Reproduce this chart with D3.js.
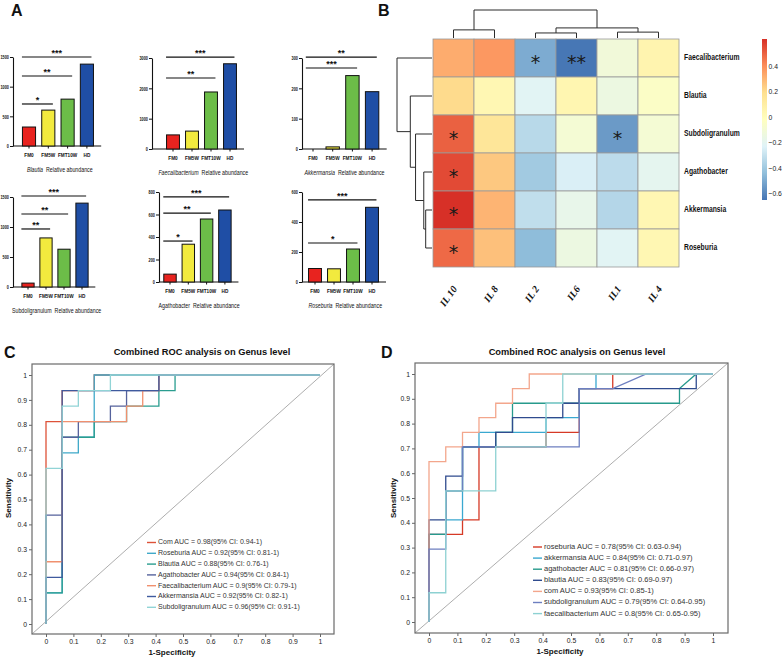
<!DOCTYPE html>
<html>
<head>
<meta charset="utf-8">
<script src="https://cdn.jsdelivr.net/npm/d3@7"></script>
<style>
  body { margin: 0; background: #fff; }
  svg { display: block; }
</style>
</head>
<body>
<svg id="fig" width="784" height="659"></svg>
<script>
// ---------- data: panel A (relative abundance bars) ----------
const groups = ["FM0", "FM5W", "FMT10W", "HD"];
const genera = ["Blautia", "Faecalibacterium", "Akkermansia", "Subdoligranulum", "Agathobacter", "Roseburia"];
const abundance = [
  [320, 605, 790, 1380],
  [465, 590, 1880, 2810],
  [0, 7, 242, 189],
  [65, 818, 630, 1398],
  [70, 336, 560, 640],
  [90, 88, 220, 498]
];
const yMax = [1500, 3000, 300, 1500, 800, 600];
const yStep = [500, 1000, 100, 500, 200, 200];
// [target group index, label, bracket level in data units]; all brackets start at FM0
const sigBars = [
  [[1, "*", 708], [2, "**", 1180], [3, "***", 1500]],
  [[2, "**", 2340], [3, "***", 3030]],
  [[2, "***", 267], [3, "**", 303]],
  [[1, "**", 967], [2, "**", 1217], [3, "***", 1517]],
  [[1, "*", 364], [2, "**", 613], [3, "***", 756]],
  [[2, "*", 260], [3, "***", 547]]
];

// ---------- data: panel B (correlation heatmap) ----------
const heatRows = ["Faecalibacterium", "Blautia", "Subdoligranulum", "Agathobacter", "Akkermansia", "Roseburia"];
const heatCols = ["IL 10", "IL 8", "IL 2", "IL6", "IL1", "IL 4"];
const corr = [
  [0.32, 0.37, -0.50, -0.65, -0.12, 0.05],
  [0.20, 0.03, -0.22, 0.04, -0.15, -0.05],
  [0.50, 0.15, -0.34, -0.10, -0.55, -0.10],
  [0.55, 0.25, -0.40, -0.25, -0.33, -0.20],
  [0.61, 0.30, -0.32, -0.18, -0.35, 0.03],
  [0.48, 0.27, -0.45, -0.15, -0.22, 0.03]
];
const corrStars = [
  ["", "", "*", "**", "", ""],
  ["", "", "", "", "", ""],
  ["*", "", "", "", "*", ""],
  ["*", "", "", "", "", ""],
  ["*", "", "", "", "", ""],
  ["*", "", "", "", "", ""]
];
const rowTree = { h: 1, children: [
  { name: "Faecalibacterium" },
  { h: 0.62, children: [
    { name: "Blautia" },
    { h: 0.47, children: [
      { name: "Subdoligranulum" },
      { h: 0.235, children: [
        { name: "Agathobacter" },
        { h: 0.18, children: [{ name: "Akkermansia" }, { name: "Roseburia" }] }
      ] }
    ] }
  ] }
] };
const colTree = { h: 1, children: [
  { h: 0.29, children: [{ name: "IL 10" }, { name: "IL 8" }] },
  { h: 0.36, children: [
    { h: 0.18, children: [{ name: "IL 2" }, { name: "IL6" }] },
    { h: 0.21, children: [{ name: "IL1" }, { name: "IL 4" }] }
  ] }
] };
const colorTicks = [0.4, 0.2, 0, -0.2, -0.4, -0.6];

// ---------- data: panels C and D (ROC) ----------
const rocTicks = [0, 0.1, 0.2, 0.3, 0.4, 0.5, 0.6, 0.7, 0.8, 0.9, 1];

const rocNamesC = ["Com", "Roseburia", "Blautia", "Agathobacter", "Faecalibacterium", "Akkermansia", "Subdoligranulum"];
const aucC = ["0.98", "0.92", "0.88", "0.94", "0.9", "0.92", "0.96"];
const ciC = ["0.94-1", "0.81-1", "0.76-1", "0.84-1", "0.79-1", "0.82-1", "0.91-1"];
const rocC = [
  [[0,0],[0,0.8125],[0.059,0.8125],[0.059,0.9375],[0.176,0.9375],[0.176,1],[1,1]],
  [[0,0],[0,0.125],[0.059,0.125],[0.059,0.6875],[0.118,0.6875],[0.118,0.75],[0.176,0.75],[0.176,1],[1,1]],
  [[0,0],[0,0.125],[0.059,0.125],[0.059,0.75],[0.176,0.75],[0.176,0.8125],[0.294,0.8125],[0.294,0.875],[0.412,0.875],[0.412,0.9375],[0.471,0.9375],[0.471,1],[1,1]],
  [[0,0],[0,0.4375],[0.059,0.4375],[0.059,0.75],[0.118,0.75],[0.118,0.8125],[0.235,0.8125],[0.235,0.875],[0.294,0.875],[0.294,0.9375],[0.412,0.9375],[0.412,1],[1,1]],
  [[0,0],[0,0.25],[0.059,0.25],[0.059,0.8125],[0.294,0.8125],[0.294,0.875],[0.353,0.875],[0.353,0.9375],[0.412,0.9375],[0.412,1],[1,1]],
  [[0,0],[0,0.1875],[0.059,0.1875],[0.059,0.9375],[0.412,0.9375],[0.412,1],[1,1]],
  [[0,0],[0,0.625],[0.059,0.625],[0.059,0.875],[0.118,0.875],[0.118,0.9375],[0.235,0.9375],[0.235,1],[1,1]]
];

const rocNamesD = ["roseburia", "akkermansia", "agathobacter", "blautia", "com", "subdoligranulum", "faecalibacterium"];
const aucD = ["0.78", "0.84", "0.81", "0.83", "0.93", "0.79", "0.8"];
const ciD = ["0.63-0.94", "0.71-0.97", "0.66-0.97", "0.69-0.97", "0.85-1", "0.64-0.95", "0.65-0.95"];
const rocD = [
  [[0,0],[0,0.353],[0.118,0.353],[0.118,0.412],[0.176,0.412],[0.176,0.706],[0.412,0.706],[0.412,0.765],[0.529,0.765],[0.529,0.941],[0.647,0.941],[0.647,1],[1,1]],
  [[0,0],[0,0.353],[0.059,0.353],[0.059,0.412],[0.118,0.412],[0.118,0.706],[0.176,0.706],[0.176,0.765],[0.412,0.765],[0.412,0.824],[0.529,0.824],[0.529,0.941],[0.588,0.941],[0.588,1],[1,1]],
  [[0,0],[0,0.353],[0.059,0.353],[0.059,0.529],[0.118,0.529],[0.118,0.706],[0.235,0.706],[0.235,0.765],[0.294,0.765],[0.294,0.882],[0.882,0.882],[0.882,0.941],[0.941,1],[1,1]],
  [[0,0],[0,0.412],[0.059,0.412],[0.059,0.588],[0.118,0.588],[0.118,0.706],[0.235,0.706],[0.235,0.765],[0.294,0.765],[0.294,0.824],[0.471,0.824],[0.471,0.882],[0.529,0.882],[0.529,0.941],[0.941,0.941],[0.941,1],[1,1]],
  [[0,0],[0,0.647],[0.059,0.647],[0.059,0.706],[0.118,0.706],[0.118,0.765],[0.176,0.765],[0.176,0.824],[0.235,0.824],[0.235,0.882],[0.294,0.882],[0.294,0.941],[0.353,0.941],[0.353,1],[1,1]],
  [[0,0],[0,0.294],[0.059,0.294],[0.059,0.529],[0.118,0.529],[0.118,0.706],[0.529,0.706],[0.529,0.941],[0.647,0.941],[0.765,1],[1,1]],
  [[0,0],[0,0.118],[0.059,0.118],[0.059,0.529],[0.235,0.529],[0.235,0.706],[0.412,0.706],[0.412,0.882],[0.471,0.882],[0.471,1],[1,1]]
];

// ---------- layout & styles ----------
const SANS = "'Liberation Sans', Arial, sans-serif";
const SERIF = "'Liberation Serif', 'Times New Roman', serif";

const barFill = ["#e8231f", "#f2ea3e", "#6cbd48", "#1f4ea5"];
const barFrames = [
  { ax: 13, y0: 146, yTop: 57, c0: 29, step: 19.3, italic: true },
  { ax: 152, y0: 149, yTop: 58, c0: 173, step: 19, italic: true },
  { ax: 302, y0: 149, yTop: 58, c0: 313, step: 19.7, italic: true },
  { ax: 13, y0: 287, yTop: 197, c0: 28, step: 18, italic: false },
  { ax: 159, y0: 282, yTop: 192, c0: 170, step: 18.3, italic: false },
  { ax: 302, y0: 282, yTop: 192, c0: 315, step: 19, italic: true }
];
const heatBox = { left: 433, right: 679, top: 39, bottom: 267 };
const heatPalette = ["#4575B4", "#91BFDB", "#E0F3F8", "#FFFFBF", "#FEE090", "#FC8D59", "#D73027"];
const colorsC = ["#dd5238", "#3fa9c9", "#2a9d8f", "#55629c", "#f0906e", "#3f5a9e", "#91d4d6"];
const colorsD = ["#d63a26", "#3aa8d0", "#279a8c", "#2f4b8e", "#f3a68c", "#6d7fc0", "#8dd1d2"];
const rocFrameC = { left: 32, right: 334, top: 364, bottom: 634, x0: 46, x1: 320, y0: 624, y1: 375,
  title: [202, 355], xlab: [172, 655], ylab: [9, 498], legend: { x: 147, y: 542.5, dy: 10.8, fs: 7 } };
const rocFrameD = { left: 415, right: 728, top: 363, bottom: 633, x0: 429, x1: 713, y0: 622, y1: 374,
  title: [577, 355], xlab: [560, 654], ylab: [394, 498], legend: { x: 533, y: 547, dy: 11.1, fs: 7.5 } };

// squeeze text horizontally (scaleX about its anchor) to mimic the condensed face of the original
function condense(sel, k) {
  sel.each(function () {
    const t = d3.select(this);
    const x = +t.attr("x") || 0, y = +t.attr("y") || 0;
    t.attr("x", 0).attr("y", 0).attr("transform", `translate(${x},${y}) scale(${k},1)`);
  });
}

const svg = d3.select("#fig");
svg.append("rect").attr("width", 784).attr("height", 659).attr("fill", "#fff");

// panel letters
[["A", 11, 16], ["B", 378, 16], ["C", 4, 358], ["D", 381, 358]].forEach(([t, x, y]) => {
  svg.append("text").attr("x", x).attr("y", y).text(t)
    .style("font-family", SANS).style("font-weight", "bold").style("font-size", "16px").style("fill", "#111");
});

// ---------- panel A ----------
genera.forEach((name, k) => {
  const f = barFrames[k];
  const g = svg.append("g").attr("class", "bar-chart");
  const y = d3.scaleLinear().domain([0, yMax[k]]).range([f.y0, f.yTop]);
  const x = d3.scaleBand().domain(groups)
    .range([f.c0 - f.step / 2, f.c0 + f.step * 3.5])
    .paddingInner(0.32).paddingOuter(0.16);

  const yAxis = d3.axisLeft(y)
    .tickValues(d3.range(0, yMax[k] + 1, yStep[k]))
    .tickSize(3).tickSizeOuter(0).tickPadding(1)
    .tickFormat(d3.format("d"));
  const ya = g.append("g").attr("transform", `translate(${f.ax},0)`).call(yAxis);
  ya.select(".domain").attr("stroke", "#111").attr("stroke-width", 1.1);
  ya.selectAll(".tick line").attr("stroke", "#111");
  ya.selectAll(".tick text").style("font-family", SANS).style("font-weight", "bold")
    .style("font-size", "6px").attr("fill", "#111");
  condense(ya.selectAll(".tick text"), 0.64);

  // x axis
  const xEnd = x("HD") + x.bandwidth() + f.step * 0.4;
  g.append("line").attr("x1", f.ax).attr("x2", xEnd).attr("y1", f.y0).attr("y2", f.y0)
    .attr("stroke", "#111").attr("stroke-width", 1.1);
  groups.forEach(gr => {
    const cx = x(gr) + x.bandwidth() / 2;
    g.append("line").attr("x1", cx).attr("x2", cx).attr("y1", f.y0).attr("y2", f.y0 + 2.5)
      .attr("stroke", "#111");
    const t = g.append("text").attr("x", cx).attr("y", f.y0 + 11).attr("text-anchor", "middle").text(gr)
      .style("font-family", SANS).style("font-weight", "bold").style("font-size", "6.2px").style("fill", "#111");
    condense(t, 0.76);
  });

  g.selectAll("rect.bar").data(abundance[k]).join("rect")
    .attr("class", "bar")
    .attr("x", (d, i) => x(groups[i]))
    .attr("y", d => y(d))
    .attr("width", x.bandwidth())
    .attr("height", d => f.y0 - y(d))
    .attr("fill", (d, i) => barFill[i])
    .attr("stroke", "#111").attr("stroke-width", 1);

  // significance brackets
  sigBars[k].forEach(([ti, label, level]) => {
    const x1 = x(groups[0]) - 0.5;
    const x2 = x(groups[ti]) + x.bandwidth() - 2;
    const yy = y(level);
    g.append("line").attr("x1", x1).attr("x2", x2).attr("y1", yy).attr("y2", yy)
      .attr("stroke", "#111").attr("stroke-width", 1.2);
    g.append("text").attr("x", (x1 + x2) / 2).attr("y", yy - 1.2).attr("text-anchor", "middle").text(label)
      .style("font-family", SANS).style("font-weight", "bold").style("font-size", "9px").style("fill", "#111");
  });

  // caption: genus name + "Relative abundance", set side by side
  const capY = f.y0 + 25.5;
  const capX = (x(groups[0]) + xEnd) / 2 - 2;
  const k0 = 0.8, gap = 3;
  const t1 = g.append("text").text(name)
    .style("font-family", SANS).style("font-size", "6.6px").style("fill", "#111")
    .style("font-style", f.italic ? "italic" : "normal");
  const t2 = g.append("text").text("Relative abundance")
    .style("font-family", SANS).style("font-size", "6.6px").style("fill", "#111");
  const w1 = t1.node().getComputedTextLength() * k0;
  const w2 = t2.node().getComputedTextLength() * k0;
  const sx = capX - (w1 + gap + w2) / 2;
  t1.attr("x", sx).attr("y", capY);
  t2.attr("x", sx + w1 + gap).attr("y", capY);
  condense(t1, k0);
  condense(t2, k0);
});

// ---------- panel B ----------
const hb = heatBox;
const hx = d3.scaleBand().domain(heatCols).range([hb.left, hb.right]);
const hy = d3.scaleBand().domain(heatRows).range([hb.top, hb.bottom]);
const allVals = corr.flat();
const vLo = -0.655, vHi = d3.max(allVals);
const heatColor = d3.scaleLinear()
  .domain(heatPalette.map((_, i) => vLo + i * (vHi - vLo) / (heatPalette.length - 1)))
  .range(heatPalette);

const gHeat = svg.append("g").attr("class", "heatmap");
heatRows.forEach((r, i) => {
  heatCols.forEach((c, j) => {
    gHeat.append("rect")
      .attr("x", hx(c)).attr("y", hy(r))
      .attr("width", hx.bandwidth()).attr("height", hy.bandwidth())
      .attr("fill", heatColor(corr[i][j]))
      .attr("stroke", "#9a9a9a").attr("stroke-width", 0.8);
    if (corrStars[i][j]) {
      gHeat.append("text")
        .attr("x", hx(c) + hx.bandwidth() / 2)
        .attr("y", hy(r) + hy.bandwidth() / 2 + 10.5)
        .attr("text-anchor", "middle")
        .text(corrStars[i][j])
        .style("font-family", "'DejaVu Sans', sans-serif").style("font-size", "19px").style("fill", "#1a1a1a");
    }
  });
  const t = gHeat.append("text").attr("x", hb.right + 5).attr("y", hy(r) + hy.bandwidth() / 2)
    .attr("dominant-baseline", "middle").text(r)
    .style("font-family", SANS).style("font-weight", "bold").style("font-size", "8.5px").style("fill", "#111");
  condense(t, 0.8);
});
heatCols.forEach(c => {
  const cx = hx(c) + hx.bandwidth() / 2 + 4;
  gHeat.append("text").attr("x", cx).attr("y", hb.bottom + 22)
    .attr("text-anchor", "end")
    .attr("transform", `rotate(-55, ${cx}, ${hb.bottom + 22})`)
    .text(c)
    .style("font-family", SERIF).style("font-weight", "bold").style("font-style", "italic")
    .style("font-size", "10px").style("fill", "#111");
});

// dendrograms
function drawDendro(tree, posScale, hScale, horizontal) {
  const root = d3.hierarchy(tree);
  root.eachAfter(n => {
    n.pos = n.children ? d3.mean(n.children, c => c.pos) : posScale(n.data.name) + posScale.bandwidth() / 2;
    n.ht = n.children ? n.data.h : 0;
  });
  const gD = svg.append("g").attr("class", "dendro");
  const seg = (a, b, c, d) => {
    // horizontal: height on x, position on y
    const pts = horizontal ? [hScale(a), b, hScale(c), d] : [b, hScale(a), d, hScale(c)];
    gD.append("line").attr("x1", pts[0]).attr("y1", pts[1]).attr("x2", pts[2]).attr("y2", pts[3])
      .attr("stroke", "#2b2b2b").attr("stroke-width", 1);
  };
  root.each(n => {
    if (!n.children) return;
    n.children.forEach(ch => seg(ch.ht, ch.pos, n.ht, ch.pos));
    const ps = n.children.map(c => c.pos);
    seg(n.ht, d3.min(ps), n.ht, d3.max(ps));
  });
}
drawDendro(rowTree, hy, d3.scaleLinear().domain([0, 1]).range([hb.left - 1, 397]), true);
drawDendro(colTree, hx, d3.scaleLinear().domain([0, 1]).range([hb.top - 1, 10]), false);

// colour bar
const cb = { x: 762, w: 5, top: 39, bottom: 200 };
const cbScale = d3.scaleLinear().domain([vLo, vHi]).range([cb.bottom, cb.top]);
const grad = svg.append("defs").append("linearGradient").attr("id", "cbgrad")
  .attr("x1", 0).attr("y1", 1).attr("x2", 0).attr("y2", 0);
heatColor.domain().forEach((v, i) => {
  grad.append("stop").attr("offset", i / (heatPalette.length - 1)).attr("stop-color", heatPalette[i]);
});
svg.append("rect").attr("x", cb.x).attr("y", cb.top).attr("width", cb.w).attr("height", cb.bottom - cb.top)
  .attr("fill", "url(#cbgrad)");
const cbAxis = svg.append("g").attr("transform", `translate(${cb.x + cb.w},0)`)
  .call(d3.axisRight(cbScale).tickValues(colorTicks).tickSize(0).tickPadding(1.5).tickFormat(d3.format("")));
cbAxis.select(".domain").remove();
cbAxis.selectAll("text").style("font-family", SANS).style("font-size", "8px").attr("fill", "#222");
condense(cbAxis.selectAll("text"), 0.85);

// ---------- panels C and D ----------
function drawRoc(fr, curves, names, aucs, cis, colors) {
  const g = svg.append("g").attr("class", "roc");
  const x = d3.scaleLinear().domain([0, 1]).range([fr.x0, fr.x1]);
  const y = d3.scaleLinear().domain([0, 1]).range([fr.y0, fr.y1]);

  g.append("text").attr("x", fr.title[0]).attr("y", fr.title[1]).attr("text-anchor", "middle")
    .text("Combined ROC analysis on Genus level")
    .style("font-family", SANS).style("font-weight", "bold").style("font-size", "9.3px").style("fill", "#111");

  // diagonal reference
  g.append("line").attr("x1", fr.left).attr("y1", fr.bottom).attr("x2", fr.right).attr("y2", fr.top)
    .attr("stroke", "#8a8a8a").attr("stroke-width", 0.7);

  const line = d3.line().x(d => x(d[0])).y(d => y(d[1]));
  curves.forEach((c, i) => {
    g.append("path").attr("d", line(c)).attr("fill", "none")
      .attr("stroke", colors[i]).attr("stroke-width", 1.3);
  });

  g.append("rect").attr("x", fr.left).attr("y", fr.top)
    .attr("width", fr.right - fr.left).attr("height", fr.bottom - fr.top)
    .attr("fill", "none").attr("stroke", "#6a6a6a").attr("stroke-width", 1.2);

  const xa = g.append("g").attr("transform", `translate(0,${fr.bottom})`)
    .call(d3.axisBottom(x).tickValues(rocTicks).tickSize(3).tickSizeOuter(0).tickPadding(2).tickFormat(d3.format("")));
  const ya = g.append("g").attr("transform", `translate(${fr.left},0)`)
    .call(d3.axisLeft(y).tickValues(rocTicks).tickSize(3).tickSizeOuter(0).tickPadding(2).tickFormat(d3.format("")));
  [xa, ya].forEach(a => {
    a.select(".domain").remove();
    a.selectAll(".tick line").attr("stroke", "#666");
    a.selectAll(".tick text").style("font-family", SANS).style("font-size", "6.8px").attr("fill", "#222");
  });

  g.append("text").attr("x", fr.xlab[0]).attr("y", fr.xlab[1]).attr("text-anchor", "middle").text("1-Specificity")
    .style("font-family", SANS).style("font-weight", "bold").style("font-size", "8px").style("fill", "#111");
  g.append("text").attr("transform", `translate(${fr.ylab[0]},${fr.ylab[1]}) rotate(-90)`)
    .attr("text-anchor", "middle").attr("dominant-baseline", "middle").text("Sensitivity")
    .style("font-family", SANS).style("font-weight", "bold").style("font-size", "8px").style("fill", "#111");

  const lg = fr.legend;
  names.forEach((n, i) => {
    const yy = lg.y + i * lg.dy;
    g.append("line").attr("x1", lg.x).attr("x2", lg.x + 9).attr("y1", yy).attr("y2", yy)
      .attr("stroke", colors[i]).attr("stroke-width", 1.4);
    g.append("text").attr("x", lg.x + 11).attr("y", yy).attr("dominant-baseline", "middle")
      .text(`${n} AUC = ${aucs[i]}(95% CI: ${cis[i]})`)
      .style("font-family", SANS).style("font-size", `${lg.fs}px`).style("fill", "#333");
  });
}
drawRoc(rocFrameC, rocC, rocNamesC, aucC, ciC, colorsC);
drawRoc(rocFrameD, rocD, rocNamesD, aucD, ciD, colorsD);
</script>
</body>
</html>
